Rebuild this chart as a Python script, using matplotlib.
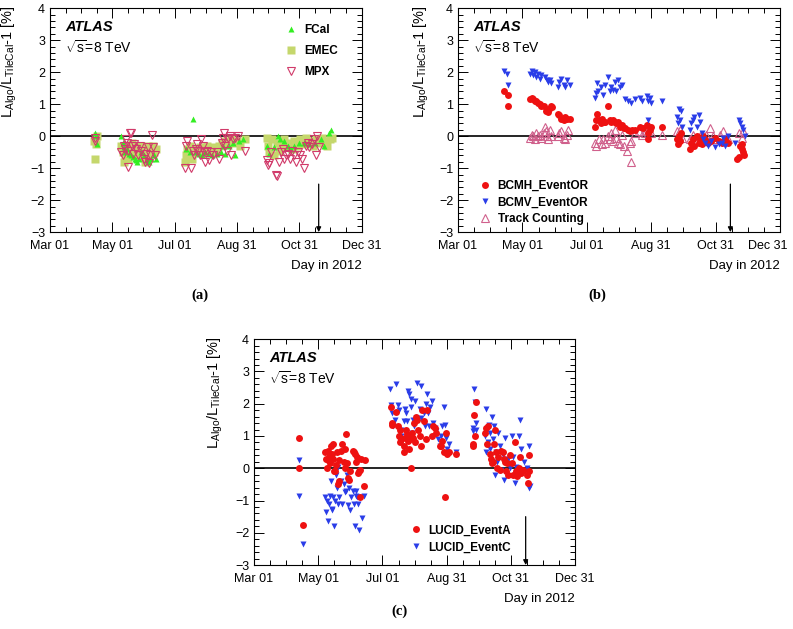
import numpy as np
import matplotlib
matplotlib.use("Agg")
import matplotlib.pyplot as plt
from matplotlib.ticker import MultipleLocator, FixedLocator
from matplotlib.transforms import ScaledTranslation

plt.rcParams['font.family'] = ['Liberation Sans', 'DejaVu Sans']
plt.rcParams['mathtext.fontset'] = 'custom'
plt.rcParams['mathtext.rm'] = 'Liberation Sans'
plt.rcParams['mathtext.it'] = 'Liberation Sans:italic'

#----------------------------------------------------------------
# data: x = day of year 2012, y = L_Algo/L_TileCal - 1 [%]

tick_days = [61, 122, 183, 244, 305, 366]
tick_labels = ['Mar 01', 'May 01', 'Jul 01', 'Aug 31', 'Oct 31', 'Dec 31']

# panel (a)
fcal_day = [105, 106, 107, 131, 132, 133, 134, 136, 138, 140, 142, 144, 145, 146, 148, 150,
            153, 156, 158, 160, 163, 165, 194, 198, 201, 204, 207, 210, 213, 216, 220, 224,
            228, 230, 232, 236, 240, 242, 246, 250, 273, 275, 280, 284, 286, 290, 294, 297,
            300, 305, 310, 315, 320, 326, 329, 334, 336]
fcal_val = [0.1, 0.0, -0.25, 0.0, -0.2, -0.35, -0.5, -0.4, -0.55, -0.6, -0.65, -0.7, -0.75, -0.8, -0.7, -0.5,
            -0.6, -0.75, -0.8, -0.7, -0.6, -0.7, -0.4, -0.5, 0.55, -0.5, -0.55, -0.6, -0.5, -0.55, -0.6, -0.55,
            -0.5, -0.3, -0.55, -0.3, -0.2, -0.6, -0.15, -0.1, -0.3, -0.55, -0.35, 0.0, -0.1, -0.15, -0.3, -0.4,
            -0.3, -0.2, -0.2, -0.25, -0.2, -0.1, -0.3, 0.1, 0.2]

emec_day = [104, 105, 106, 107, 131, 132, 133, 134, 135, 137, 138, 140, 141, 143, 145, 147, 149, 150,
            152, 154, 155, 157, 159, 160, 162, 163, 165, 193, 194, 195, 198, 200, 203, 205, 208, 210,
            213, 215, 218, 220, 223, 226, 229, 232, 235, 238, 241, 244, 247, 252, 273, 274, 275, 278,
            280, 283, 285, 287, 290, 292, 295, 298, 300, 303, 306, 309, 312, 315, 318, 321, 324, 327,
            330, 332, 335, 337]
emec_val = [-0.15, -0.7, -0.25, 0.0, -0.3, -0.5, -0.8, -0.6, -0.4, -0.7, -0.3, -0.55, -0.2, -0.45, -0.6, -0.35, -0.5, -0.3,
            -0.65, -0.8, -0.45, -0.3, -0.55, -0.4, -0.3, -0.5, -0.4, -0.8, -0.6, -0.4, -0.3, -0.7, -0.4, -0.5, -0.35, -0.5,
            -0.4, -0.3, -0.45, -0.35, -0.5, -0.3, -0.2, -0.15, -0.25, -0.1, -0.2, -0.15, -0.3, -0.1, -0.05, -0.3, -0.5, -0.1,
            -0.6, -0.2, -0.45, -0.3, -0.1, -0.35, -0.2, -0.4, -0.15, -0.3, -0.1, -0.25, -0.05, -0.15, -0.3, -0.1, -0.2, -0.05,
            -0.15, -0.3, -0.1, -0.05]

mpx_day = [105, 105, 131, 132, 133, 134, 135, 136, 137, 137, 139, 140, 141, 142, 143, 145, 147, 149,
           150, 153, 154, 155, 157, 158, 159, 161, 162, 164, 193, 194, 195, 199, 201, 202, 204, 205,
           206, 208, 209, 211, 212, 213, 215, 217, 219, 221, 224, 226, 229, 230, 231, 232, 234, 235,
           237, 238, 240, 242, 245, 252, 273, 274, 275, 277, 282, 283, 285, 287, 289, 290, 292, 294,
           296, 298, 300, 302, 304, 306, 308, 310, 312, 314, 315, 317, 319, 321, 322, 324]
mpx_val = [-0.05, -0.15, -0.5, -0.6, -0.3, -0.4, -0.1, -0.2, -0.45, -0.95, 0.1, 0.1, -0.3, -0.55, -0.25, -0.4, -0.6, -0.3,
           -0.45, -0.7, -0.8, -0.55, -0.35, -0.85, -0.6, 0.05, -0.35, -0.6, -1.0, -0.3, -0.15, -1.0, -0.45, -0.6, -0.4, -0.25,
           -0.45, -0.6, -0.1, -0.3, -0.5, -0.8, -0.45, -0.75, -0.5, -0.6, -0.5, -0.7, -0.2, -0.05, 0.1, -0.3, -0.45, -0.05,
           0.0, -0.6, -0.1, -0.05, 0.0, -0.45, -0.75, -0.9, -0.85, -0.5, -1.2, -1.25, -0.8, -0.5, -0.4, -0.7, -0.6, -0.55,
           -0.7, -0.45, -0.6, -0.8, -0.5, -0.6, -0.7, -1.0, -0.3, -0.2, -0.35, -0.25, -0.1, -0.6, 0.0, -0.35]

# panel (b)
bcmh_day = [105, 108, 108, 129, 131, 132, 134, 135, 137, 139, 140, 142, 144, 146, 147, 149, 150,
            156, 157, 159, 161, 162, 164, 167, 191, 192, 193, 195, 196, 197, 199, 200, 203, 205,
            206, 208, 210, 211, 213, 214, 216, 218, 219, 222, 224, 226, 229, 233, 236, 240, 241,
            243, 244, 241, 254, 268, 269, 270, 271, 272, 281, 282, 284, 285, 287, 289, 290, 292,
            293, 295, 298, 301, 304, 308, 311, 314, 317, 325, 327, 328, 330, 331, 332, 330]
bcmh_val = [1.4, 1.3, 0.95, 1.15, 1.2, 1.15, 1.1, 1.1, 1.05, 1.0, 0.95, 0.95, 0.8, 0.75, 0.85, 0.95, 0.9,
            0.7, 0.65, 0.55, 0.5, 0.6, 0.55, 0.55, 0.3, 0.5, 0.7, 0.5, 0.4, 0.55, 0.45, 0.45, 0.95, 0.5,
            0.45, 0.5, 0.45, 0.4, 0.45, 0.3, 0.35, 0.25, 0.25, 0.2, 0.15, 0.2, 0.2, 0.3, 0.25, 0.35, 0.1,
            0.2, 0.3, -0.1, 0.3, -0.1, -0.25, 0.0, -0.15, 0.1, -0.4, -0.2, -0.1, -0.3, 0.0, -0.2, -0.1, -0.25,
            0.0, -0.1, -0.2, -0.15, -0.05, -0.15, -0.2, -0.1, -0.2, -0.7, -0.65, -0.3, -0.4, -0.5, -0.6, -0.25]

bcmv_day = [105, 107, 108, 129, 131, 132, 134, 135, 137, 139, 140, 143, 145, 146, 148, 149,
            156, 157, 159, 161, 162, 164, 167, 191, 192, 193, 194, 196, 198, 200, 203, 205, 206,
            208, 210, 211, 213, 214, 216, 219, 222, 225, 229, 233, 235, 240, 241, 243, 244, 241,
            254, 268, 270, 271, 272, 273, 269, 281, 282, 284, 285, 287, 289, 290, 292, 293, 295,
            298, 301, 304, 308, 311, 312, 314, 317, 323, 327, 328, 330, 331, 333]
bcmv_val = [2.05, 1.95, 1.6, 1.95, 2.05, 1.9, 2.0, 1.85, 1.95, 1.8, 1.9, 1.85, 1.75, 1.7, 1.75, 1.65,
            1.55, 1.7, 1.8, 1.6, 1.55, 1.75, 1.6, 1.2, 1.35, 1.65, 1.4, 1.55, 1.3, 1.6, 1.85, 1.4, 1.55,
            1.45, 1.7, 1.4, 1.75, 1.55, 1.6, 1.15, 1.1, 1.05, 1.15, 1.2, 1.1, 1.25, 1.1, 1.2, 1.05, 0.5,
            1.1, 0.6, 0.85, 0.5, 0.8, 0.3, 0.4, 0.2, 0.4, 0.5, 0.6, 0.3, 0.65, 0.45, 0.1, -0.1, -0.2,
            -0.3, -0.15, -0.35, -0.25, -0.2, -0.05, -0.3, 0.0, -0.2, 0.5, 0.4, 0.3, 0.2, 0.0]

trk_day = [129, 131, 132, 134, 135, 137, 139, 140, 142, 143, 144, 145, 146, 148, 149, 156, 157,
           159, 161, 162, 164, 165, 191, 192, 195, 197, 198, 200, 203, 205, 206, 208, 210, 211,
           213, 214, 216, 218, 221, 224, 225, 225, 229, 232, 235, 238, 241, 244, 254, 268, 270,
           271, 273, 281, 284, 287, 290, 293, 296, 300, 303, 306, 309, 312, 315, 317, 327, 330, 331]
trk_val = [-0.05, 0.05, 0.0, -0.1, 0.1, 0.0, 0.05, -0.05, 0.1, 0.3, 0.15, 0.0, -0.1, 0.2, 0.0, 0.0, 0.1,
           0.15, -0.05, -0.1, 0.05, 0.2, -0.2, -0.3, -0.1, -0.25, -0.1, -0.2, 0.0, -0.1, 0.1, -0.15, 0.2,
           -0.05, -0.2, -0.25, 0.05, -0.3, -0.45, -0.2, -0.15, -0.8, 0.1, 0.15, 0.05, 0.1, 0.15, 0.1, 0.05,
           0.15, 0.0, 0.2, -0.05, -0.1, 0.05, -0.15, 0.0, -0.1, 0.05, 0.25, 0.0, -0.1, 0.05, 0.15, -0.05,
           -0.1, 0.1, -0.05, 0.15]

# panel (c)
lucA_day = [104, 104, 108, 128, 129, 130, 131, 131, 132, 133, 134, 135, 136, 136, 137, 138, 139,
            140, 141, 142, 142, 144, 145, 146, 147, 147, 148, 149, 150, 151, 152, 155, 156, 157,
            158, 159, 160, 161, 162, 162, 163, 165, 166, 191, 192, 192, 196, 198, 199, 200, 200,
            201, 203, 203, 204, 205, 206, 207, 208, 208, 209, 210, 211, 212, 213, 214, 215, 216,
            217, 219, 220, 221, 222, 224, 225, 230, 231, 233, 234, 238, 239, 240, 241, 242, 243,
            244, 246, 253, 269, 269, 270, 271, 272, 280, 281, 282, 283, 285, 286, 287, 288, 289,
            290, 291, 292, 293, 295, 296, 297, 298, 299, 300, 301, 302, 304, 306, 307, 309, 310,
            311, 313, 314, 315, 316, 320, 322, 321, 322]
lucA_val = [0.95, 0.0, -1.75, 0.5, 0.3, 0.0, 0.25, 0.55, 0.35, 0.15, 0.7, 0.45, 0.75, 0.3, -0.1, -0.1, 0.1,
            0.5, -0.5, -0.4, 0.25, 0.55, 0.75, 0.2, 0.6, 0.0, 1.05, 0.15, -0.3, -0.35, -0.1, 0.55, 0.5, 0.45,
            0.2, 0.35, -0.15, -0.1, -0.9, -0.05, 0.3, -0.55, 0.25, 1.9, 1.35, 1.4, 1.75, 1.3, 1.0, 1.2, 0.8,
            0.9, 0.7, 0.5, 0.95, 1.2, 1.05, 0.85, 1.0, 0.6, 0.9, 0.0, 1.1, 0.95, 1.4, 0.8, 1.6, 1.5,
            1.2, 1.0, 0.7, 1.8, 1.45, 0.9, 1.8, 1.0, 1.3, 1.25, 1.1, 0.7, 0.7, 0.85, 0.5, -0.9, 1.1,
            0.45, 0.5, 0.45, 0.75, 0.7, 1.65, 1.0, 2.05, 1.1, 1.25, 0.75, 1.3, 0.45, 0.3, 0.15, 0.2, 0.75,
            1.2, 0.5, 0.0, 0.35, -0.05, 0.55, 0.5, 0.3, 0.2, -0.1, 0.15, -0.2, 0.4, 0.15, -0.2, 0.8, -0.1,
            -0.25, 0.0, 0.35, -0.15, -0.05, -0.2, 0.4, -0.45, -0.1]

lucC_day = [104, 104, 108, 128, 129, 130, 131, 132, 133, 134, 135, 135, 136, 137, 138, 139, 140,
            141, 141, 142, 144, 145, 146, 147, 148, 149, 150, 151, 152, 153, 155, 156, 157, 158,
            158, 159, 160, 161, 162, 164, 165, 190, 191, 192, 193, 195, 196, 198, 199, 201, 201,
            203, 204, 205, 206, 207, 208, 210, 210, 211, 212, 213, 214, 215, 216, 219, 220, 220,
            222, 223, 224, 225, 226, 227, 228, 230, 231, 233, 234, 236, 238, 239, 240, 241, 242,
            243, 244, 246, 253, 269, 269, 270, 271, 272, 272, 280, 281, 281, 283, 284, 285, 285,
            286, 287, 288, 289, 290, 291, 292, 293, 295, 296, 297, 298, 299, 301, 302, 304, 306,
            307, 309, 310, 312, 313, 314, 315, 317, 318, 320, 322, 322, 323]
lucC_val = [0.25, -0.85, -2.35, -0.9, -1.35, -1.0, -1.65, -1.1, -0.85, -0.4, -1.25, -1.3, -0.9, -1.8, -1.0, -0.2, -0.6,
            -1.1, 0.05, -0.9, -0.4, -1.1, -0.5, -0.75, -0.7, -0.2, -1.15, -0.6, -1.3, -0.9, -0.7, -1.1, -1.8, -0.7,
            -0.85, -0.9, -1.1, -1.9, -0.9, -1.55, -0.85, 2.45, 1.95, 1.7, 1.3, 1.5, 2.6, 1.95, 1.8, 1.2, 1.0,
            1.45, 1.85, 1.7, 1.45, 2.4, 2.3, 1.9, 2.15, 1.1, 1.5, 1.3, 2.1, 1.55, 2.65, 1.85, 1.55, 2.55,
            1.7, 1.3, 2.0, 2.3, 1.7, 1.3, 1.9, 2.1, 1.4, 1.25, 1.15, 0.9, 0.7, 1.0, 1.3, 1.9, 1.35,
            0.95, 0.6, 0.75, 0.5, 1.15, 1.25, 2.45, 2.05, 1.2, 1.4, 1.0, 0.5, 1.85, 0.8, 1.35,
            1.1, 0.6, 0.2, 1.6, 0.9, 1.3, -0.2, 0.5, 0.2, 1.1, 0.7, -0.05, 0.4, -0.35, 0.95, 0.15, 0.3,
            0.0, 1.0, 0.35, -0.45, 0.05, -0.2, 1.0, 1.5, 0.6, 0.2, -0.1, 0.0, 0.7, -0.6, -0.55]

arrow_day = {'a': 324, 'b': 319, 'c': 319}

#----------------------------------------------------------------
# styling helpers

fig = plt.figure(figsize=(7.93, 6.29), dpi=100)


def style_axes(ax, arrow_x, ylab_x):
    ax.set_xlim(61, 366)
    ax.set_ylim(-3, 4)
    ax.xaxis.set_major_locator(FixedLocator(tick_days))
    ax.set_xticklabels(tick_labels)
    ax.xaxis.set_minor_locator(MultipleLocator(61 / 4))
    ax.yaxis.set_major_locator(MultipleLocator(1))
    ax.yaxis.set_minor_locator(MultipleLocator(0.2))
    ax.tick_params(which='both', direction='in', top=True, right=True, labelsize=9, width=0.7)
    ax.tick_params(which='major', length=7)
    ax.tick_params(which='minor', length=3.5)
    ax.tick_params(axis='x', pad=6)
    for s in ax.spines.values():
        s.set_linewidth(0.8)
    ax.axhline(0, color='black', lw=1.2, zorder=1)
    ax.annotate('', xy=(arrow_x, -3), xytext=(arrow_x, -1.5),
                arrowprops=dict(arrowstyle='-|>', color='black', lw=0.9,
                                mutation_scale=7, shrinkA=0, shrinkB=0))
    ax.set_ylabel(r'L$_{\mathrm{Algo}}$/L$_{\mathrm{TileCal}}$-1 [%]', fontsize=10.5, ha='right')
    ax.yaxis.set_label_coords(ylab_x, 1.012)
    ax.text(1.0, -0.15, 'Day in 2012', transform=ax.transAxes, ha='right', va='center', fontsize=9.5)
    ax.text(0.048, 0.915, 'ATLAS', transform=ax.transAxes, fontsize=10.5,
            fontweight='bold', fontstyle='italic', va='center')
    ax.text(0.048, 0.825, r'$\sqrt{\mathrm{s}}$=8 TeV', transform=ax.transAxes, fontsize=10, va='center')


leg_kw = dict(frameon=False, handletextpad=0.6, handlelength=1.0,
              prop={'weight': 'bold', 'size': 8.5}, borderaxespad=0)

# panel (a)
ax_a = fig.add_axes([0.063, 0.631, 0.393, 0.356])
ax_a.plot(emec_day, emec_val, 's', color='#c5d76c', ms=5.5, mec='none', label='EMEC', zorder=2)
ax_a.plot(fcal_day, fcal_val, '^', color='#33ee22', ms=4.5, mec='none', label='FCal', zorder=3)
ax_a.plot(mpx_day, mpx_val, 'v', mfc='none', mec='#d13a6a', ms=5.5, mew=0.8, label='MPX', zorder=4)
style_axes(ax_a, arrow_day['a'], -0.10)
h, l = ax_a.get_legend_handles_labels()
ax_a.legend([h[1], h[0], h[2]], [l[1], l[0], l[2]], loc='upper left',
            bbox_to_anchor=(0.74, 0.95), labelspacing=0.75, **leg_kw)
fig.text(200 / 793, 1 - 295 / 629, '(a)', family='Liberation Serif', fontweight='bold',
         fontsize=10.5, ha='center', va='center')

# panel (b)
ax_b = fig.add_axes([0.5776, 0.631, 0.406, 0.356])
ax_b.plot(trk_day, trk_val, '^', mfc='none', mec='#d0608c', ms=5.5, mew=0.8, label='Track Counting', zorder=2)
ax_b.plot(bcmh_day, bcmh_val, 'o', color='#ee1111', ms=5, mec='none', label='BCMH_EventOR', zorder=3)
ax_b.plot(bcmv_day, bcmv_val, 'v', color='#2a3de8', ms=5, mec='none', label='BCMV_EventOR', zorder=4)
style_axes(ax_b, arrow_day['b'], -0.085)
# last tick label sits a little inside, as in the original page
last = ax_b.get_xticklabels()[-1]
last.set_transform(last.get_transform() + ScaledTranslation(-9 / 72, 0, fig.dpi_scale_trans))
h, l = ax_b.get_legend_handles_labels()
ax_b.legend([h[1], h[2], h[0]], [l[1], l[2], l[0]], loc='upper left',
            bbox_to_anchor=(0.05, 0.255), labelspacing=0.4, **leg_kw)
fig.text(597 / 793, 1 - 295 / 629, '(b)', family='Liberation Serif', fontweight='bold',
         fontsize=10.5, ha='center', va='center')

# panel (c)
ax_c = fig.add_axes([0.3203, 0.1017, 0.405, 0.359])
ax_c.plot(lucC_day, lucC_val, 'v', color='#2a3de8', ms=5, mec='none', label='LUCID_EventC', zorder=2)
ax_c.plot(lucA_day, lucA_val, 'o', color='#ee1111', ms=5, mec='none', label='LUCID_EventA', zorder=3)
style_axes(ax_c, arrow_day['c'], -0.09)
h, l = ax_c.get_legend_handles_labels()
ax_c.legend([h[1], h[0]], [l[1], l[0]], loc='upper left',
            bbox_to_anchor=(0.47, 0.2), labelspacing=0.4, **leg_kw)
fig.text(400 / 793, 1 - 611 / 629, '(c)', family='Liberation Serif', fontweight='bold',
         fontsize=10.5, ha='center', va='center')

fig.savefig('out.png', dpi=100)
